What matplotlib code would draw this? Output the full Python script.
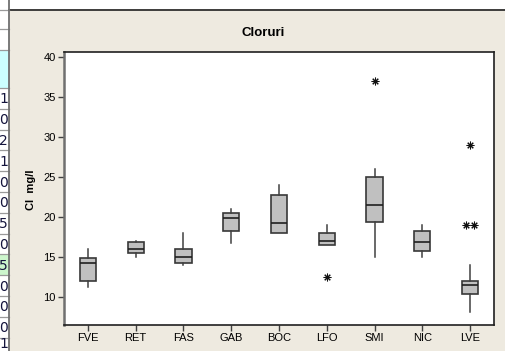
import matplotlib.pyplot as plt
from matplotlib.patches import Rectangle

plt.rcParams['font.family'] = ['Liberation Sans', 'DejaVu Sans']

W, H = 506, 351

categories = ["FVE", "RET", "FAS", "GAB", "BOC", "LFO", "SMI", "NIC", "LVE"]
q1 = [12.1, 15.5, 14.3, 18.3, 18.1, 16.5, 19.4, 15.8, 10.4]
medians = [14.3, 16.1, 15.1, 19.9, 19.25, 17.1, 21.5, 16.9, 11.6]
q3 = [14.9, 16.9, 16.0, 20.6, 22.75, 18.0, 25.0, 18.3, 12.1]
whislo = [11.25, 15.0, 14.1, 16.75, 18.0, 16.5, 15.0, 15.0, 8.2]
whishi = [16.0, 17.1, 18.0, 21.0, 24.0, 19.0, 26.0, 19.0, 14.0]
outliers = [[], [], [], [], [], [12.5], [37.0], [], [29.0, 19.0, 19.0]]

# worksheet column peeking out at the left edge
sheet_values = ["1", "0", "2", "1", "0", "0", "5", "0", "5", "0", "0", "0", "1"]
sheet_highlight = 8

beige = "#EEEAE0"


def px_rect(x0, y0, x1, y1):
    return [x0 / W, 1 - y1 / H, (x1 - x0) / W, (y1 - y0) / H]


fig = plt.figure(figsize=(W / 100, H / 100), dpi=100, facecolor=beige)

# top strip and worksheet column
frame = fig.add_axes([0, 0, 1, 1], zorder=-1)
frame.set_xlim(0, W)
frame.set_ylim(H, 0)
frame.axis("off")
frame.add_patch(Rectangle((0, 0), W, 9, facecolor="white", edgecolor="none"))
frame.plot([9, W], [9.5, 9.5], color="#202020", lw=1.2)
frame.add_patch(Rectangle((0, 0), 9, H, facecolor="white", edgecolor="none"))
frame.add_patch(Rectangle((0, 50), 9, 38, facecolor="#CCFFFF", edgecolor="none"))
row_h = 20.8
for i, v in enumerate(sheet_values):
    top = 88 + i * row_h
    if i == sheet_highlight:
        frame.add_patch(Rectangle((0, top), 9, row_h, facecolor="#CCF5CC", edgecolor="none"))
    frame.text(8.0, min(top + row_h / 2 + 1, H - 7), v, ha="right", va="center",
               fontsize=10, color="#14143C", family="DejaVu Sans")
for y in [10, 29, 50, 88] + [88 + (i + 1) * row_h for i in range(len(sheet_values))]:
    frame.plot([0, 9], [y, y], color="#9A9A9A", lw=0.9)
frame.plot([9.3, 9.3], [0, H], color="#707070", lw=1.3)

ax = fig.add_axes(px_rect(64, 52, 494, 325))
ax.set_facecolor("white")

stats = []
for i, name in enumerate(categories):
    stats.append({"label": name, "q1": q1[i], "med": medians[i], "q3": q3[i],
                  "whislo": whislo[i], "whishi": whishi[i], "fliers": []})

positions = list(range(1, len(categories) + 1))
ax.bxp(stats, positions=positions, widths=0.34, patch_artist=True, showcaps=False,
       showfliers=False,
       boxprops=dict(facecolor="#C0C0C0", edgecolor="#383838", linewidth=1.2),
       medianprops=dict(color="#202020", linewidth=1.2),
       whiskerprops=dict(color="#404040", linewidth=1.1))

# outliers, coincident values placed side by side
for pos, vals in zip(positions, outliers):
    for v in set(vals):
        n = vals.count(v)
        offs = [0.0] if n == 1 else [(k - (n - 1) / 2) * 0.16 for k in range(n)]
        for o in offs:
            ax.plot(pos + o, v, marker=(8, 2, 0), markersize=5.5, color="#101010",
                    markeredgewidth=0.75, linestyle="none")

ax.set_xlim(0.5, 9.5)
ax.set_ylim(6.55, 40.65)
ax.set_yticks([10, 15, 20, 25, 30, 35, 40])
ax.set_xticks(positions)
ax.set_xticklabels(categories)
ax.tick_params(axis="both", direction="out", length=4, width=1, color="#404040",
               labelsize=8, pad=2)
for side in ["top", "right", "bottom"]:
    ax.spines[side].set_color("#202020")
    ax.spines[side].set_linewidth(1.2)
ax.spines["left"].set_color("#707070")
ax.spines["left"].set_linewidth(1.8)

fig.text(263 / W, 1 - 33 / H, "Cloruri", ha="center", va="center", fontsize=9.5,
         fontweight="bold")
fig.text(31 / W, 1 - 190 / H, "Cl  mg/l", ha="center", va="center", fontsize=8,
         fontweight="bold", rotation=90)

fig.savefig("out.png", dpi=100, facecolor=beige)
